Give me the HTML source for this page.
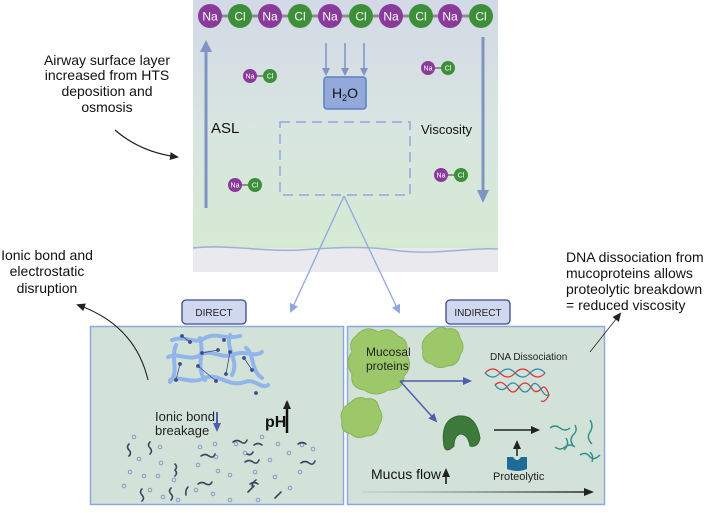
<!DOCTYPE html>
<html><head><meta charset="utf-8"><style>
body{margin:0;width:708px;height:508px;background:#fff;overflow:hidden}
svg text{font-family:"Liberation Sans",Arial,sans-serif}
</style></head><body>
<svg width="708" height="508" viewBox="0 0 708 508" xmlns="http://www.w3.org/2000/svg">
<defs>
<linearGradient id="tg" x1="0" y1="0" x2="0" y2="1">
<stop offset="0" stop-color="#d3d9e6"/><stop offset="0.55" stop-color="#d8e6e0"/><stop offset="1" stop-color="#d6ead3"/>
</linearGradient>
<linearGradient id="ag" gradientUnits="userSpaceOnUse" x1="362" y1="0" x2="590" y2="0">
<stop offset="0" stop-color="#8a9a96" stop-opacity="0.2"/><stop offset="1" stop-color="#222"/>
</linearGradient>
<marker id="ab" markerWidth="8" markerHeight="8" refX="6" refY="4" orient="auto" markerUnits="userSpaceOnUse"><path d="M0,0 L8,4 L0,8 z" fill="#7f93c4"/></marker>
<marker id="ak" markerWidth="9" markerHeight="8" refX="7" refY="4" orient="auto" markerUnits="userSpaceOnUse"><path d="M0,0 L9,4 L0,8 z" fill="#222"/></marker>
<marker id="ap" markerWidth="9" markerHeight="8" refX="7" refY="4" orient="auto" markerUnits="userSpaceOnUse"><path d="M0,0 L9,4 L0,8 z" fill="#4f5db0"/></marker>
<marker id="al" markerWidth="9" markerHeight="9" refX="7" refY="4.5" orient="auto" markerUnits="userSpaceOnUse"><path d="M0,0 L9,4.5 L0,9 z" fill="#8fa8dc"/></marker>
</defs>

<rect x="193" y="0" width="305" height="248" fill="url(#tg)"/>
<rect x="193" y="248" width="305" height="24" fill="#e9e9ee"/>
<path d="M193,248 C230,244 260,252 300,250 C340,247 370,246 400,251 C440,255 470,247 498,249" fill="none" stroke="#9fb1d3" stroke-width="1.5"/>

<g stroke="#8c8c8c" stroke-width="3"><line x1="210" y1="16" x2="481" y2="16"/></g>
<g font-size="12" fill="#fff" text-anchor="middle">
<circle cx="210" cy="16" r="12" fill="#8a3a9a"/><text x="210" y="20.5">Na</text>
<circle cx="240" cy="16" r="12" fill="#3e8f3a"/><text x="240" y="20.5">Cl</text>
<circle cx="270" cy="16" r="12" fill="#8a3a9a"/><text x="270" y="20.5">Na</text>
<circle cx="300" cy="16" r="12" fill="#3e8f3a"/><text x="300" y="20.5">Cl</text>
<circle cx="330" cy="16" r="12" fill="#8a3a9a"/><text x="330" y="20.5">Na</text>
<circle cx="361" cy="16" r="12" fill="#3e8f3a"/><text x="361" y="20.5">Cl</text>
<circle cx="391" cy="16" r="12" fill="#8a3a9a"/><text x="391" y="20.5">Na</text>
<circle cx="421" cy="16" r="12" fill="#3e8f3a"/><text x="421" y="20.5">Cl</text>
<circle cx="450" cy="16" r="12" fill="#8a3a9a"/><text x="450" y="20.5">Na</text>
<circle cx="481" cy="16" r="12" fill="#3e8f3a"/><text x="481" y="20.5">Cl</text>
</g>
<g font-size="7" fill="#fff" text-anchor="middle" stroke-width="2">
<line x1="250" y1="76" x2="270" y2="76" stroke="#8c8c8c"/><circle cx="250" cy="76" r="7" fill="#8a3a9a"/><text x="250" y="78.5">Na</text><circle cx="270" cy="76" r="7" fill="#3e8f3a"/><text x="270" y="78.5">Cl</text>
<line x1="428" y1="68" x2="448" y2="68" stroke="#8c8c8c"/><circle cx="428" cy="68" r="7" fill="#8a3a9a"/><text x="428" y="70.5">Na</text><circle cx="448" cy="68" r="7" fill="#3e8f3a"/><text x="448" y="70.5">Cl</text>
<line x1="235" y1="185" x2="255" y2="185" stroke="#8c8c8c"/><circle cx="235" cy="185" r="7" fill="#8a3a9a"/><text x="235" y="187.5">Na</text><circle cx="255" cy="185" r="7" fill="#3e8f3a"/><text x="255" y="187.5">Cl</text>
<line x1="441" y1="175" x2="461" y2="175" stroke="#8c8c8c"/><circle cx="441" cy="175" r="7" fill="#8a3a9a"/><text x="441" y="177.5">Na</text><circle cx="461" cy="175" r="7" fill="#3e8f3a"/><text x="461" y="177.5">Cl</text>
</g>

<line x1="206" y1="208" x2="206" y2="50" stroke="#7f93c4" stroke-width="3"/>
<path d="M200,52 L206,40 L212,52 z" fill="#7f93c4"/>
<line x1="483" y1="37" x2="483" y2="192" stroke="#7f93c4" stroke-width="3"/>
<path d="M477,190 L483,203 L489,190 z" fill="#7f93c4"/>
<text x="211" y="133" font-size="15" fill="#111">ASL</text>
<text x="421" y="134" font-size="13" fill="#111">Viscosity</text>

<g stroke="#7f93c4" stroke-width="1.5" marker-end="url(#ab)">
<line x1="326" y1="43" x2="326" y2="74"/><line x1="345" y1="43" x2="345" y2="74"/><line x1="364" y1="43" x2="364" y2="74"/>
</g>
<rect x="324" y="77" width="42" height="32" rx="3" fill="#93a9da" stroke="#5a80c8" stroke-width="1.5"/>
<text x="345" y="98" font-size="14" text-anchor="middle" fill="#111">H<tspan font-size="9" dy="3">2</tspan><tspan dy="-3">O</tspan></text>
<rect x="280" y="122" width="130" height="73" fill="none" stroke="#8fa8dc" stroke-width="1.5" stroke-dasharray="10,6"/>

<line x1="344" y1="196" x2="291" y2="311" stroke="#8fa8dc" stroke-width="1.3" marker-end="url(#al)"/>
<line x1="344" y1="196" x2="399" y2="312" stroke="#8fa8dc" stroke-width="1.3" marker-end="url(#al)"/>

<g font-size="14" fill="#111" text-anchor="middle">
<text x="107" y="65">Airway surface layer</text>
<text x="107" y="80">increased from HTS</text>
<text x="107" y="96">deposition and</text>
<text x="107" y="112">osmosis</text>
<text x="47" y="260">Ionic bond and</text>
<text x="47" y="276">electrostatic</text>
<text x="47" y="293">disruption</text>
</g>
<g font-size="14" fill="#111">
<text x="566" y="262">DNA dissociation from</text>
<text x="566" y="278">mucoproteins allows</text>
<text x="566" y="294">proteolytic breakdown</text>
<text x="566" y="310">= reduced viscosity</text>
</g>
<path d="M115,130 Q140,152 177,157" fill="none" stroke="#222" stroke-width="1.3" marker-end="url(#ak)"/>

<rect x="90.5" y="326.5" width="253" height="178" fill="#d2e2d9" stroke="#8fa8dc" stroke-width="1.5"/>
<rect x="347.5" y="326.5" width="257" height="178" fill="#d2e2d9" stroke="#8fa8dc" stroke-width="1.5"/>
<rect x="182" y="300" width="64" height="24" rx="4" fill="#d0d8f0" stroke="#3d4b82" stroke-width="1.3"/>
<text x="214" y="316" font-size="10" text-anchor="middle" fill="#222">DIRECT</text>
<rect x="446" y="300" width="64" height="24" rx="4" fill="#d0d8f0" stroke="#3d4b82" stroke-width="1.3"/>
<text x="478" y="316" font-size="10" text-anchor="middle" fill="#222">INDIRECT</text>

<path d="M148,380 Q135,325 78,305" fill="none" stroke="#222" stroke-width="1.1" marker-end="url(#ak)"/>
<line x1="590" y1="352" x2="620" y2="314" stroke="#333" stroke-width="0.9" marker-end="url(#ak)"/>

<g fill="none" stroke="#91b5ea" stroke-width="4" stroke-linecap="round">
<path d="M172,340 C185,335 195,345 205,338 C215,332 225,340 240,336"/>
<path d="M168,357 C178,352 190,362 200,355 C212,348 220,360 235,354 C245,350 255,358 262,352"/>
<path d="M170,380 C180,375 190,385 205,378 C218,372 228,388 245,382 C255,378 262,390 268,385"/>
<path d="M200,338 C205,355 195,365 205,380"/>
<path d="M230,335 C225,350 240,360 232,375"/>
<path d="M246,348 C255,355 250,370 262,378"/>
<path d="M176,345 C170,360 180,370 170,382"/>
</g>
<g stroke="#3d4b8a" stroke-width="0.8" fill="#3d4b8a">
<line x1="182" y1="336" x2="190" y2="342"/><line x1="202" y1="353" x2="218" y2="350"/><line x1="198" y1="366" x2="216" y2="381"/><line x1="230" y1="352" x2="226" y2="374"/><line x1="244" y1="358" x2="252" y2="370"/><line x1="176" y1="380" x2="180" y2="364"/>
<circle cx="182" cy="336" r="1.5"/><circle cx="190" cy="342" r="1.5"/><circle cx="202" cy="353" r="1.5"/><circle cx="218" cy="350" r="1.5"/><circle cx="198" cy="366" r="1.5"/><circle cx="216" cy="381" r="1.5"/><circle cx="230" cy="352" r="1.5"/><circle cx="226" cy="374" r="1.5"/><circle cx="244" cy="358" r="1.5"/><circle cx="252" cy="370" r="1.5"/><circle cx="176" cy="380" r="1.5"/><circle cx="180" cy="364" r="1.5"/><circle cx="224" cy="340" r="1.5"/><circle cx="256" cy="393" r="1.5"/>
</g>
<text x="155" y="421" font-size="13" fill="#222">Ionic bond</text>
<text x="155" y="435" font-size="13" fill="#222">breakage</text>
<line x1="217" y1="412" x2="217" y2="430" stroke="#4f5db0" stroke-width="2" marker-end="url(#ap)"/>
<text x="265" y="427" font-size="16" font-weight="bold" fill="#111">pH</text>
<line x1="287" y1="433" x2="287" y2="402" stroke="#111" stroke-width="2.5" marker-end="url(#ak)"/>
<g fill="none" stroke="#7f93c4" stroke-width="0.9">
<circle cx="134" cy="437" r="1.8"/><circle cx="160" cy="447" r="1.8"/><circle cx="139" cy="459" r="1.8"/><circle cx="161" cy="463" r="1.8"/><circle cx="130" cy="472" r="1.8"/><circle cx="144" cy="476" r="1.8"/><circle cx="158" cy="476" r="1.8"/><circle cx="174" cy="480" r="1.8"/><circle cx="124" cy="486" r="1.8"/><circle cx="150" cy="490" r="1.8"/><circle cx="163" cy="497" r="1.8"/><circle cx="200" cy="447" r="1.8"/><circle cx="215" cy="444" r="1.8"/><circle cx="216" cy="457" r="1.8"/><circle cx="198" cy="465" r="1.8"/><circle cx="218" cy="471" r="1.8"/><circle cx="230" cy="475" r="1.8"/><circle cx="196" cy="490" r="1.8"/><circle cx="213" cy="494" r="1.8"/><circle cx="236" cy="444" r="1.8"/><circle cx="245" cy="453" r="1.8"/><circle cx="262" cy="437" r="1.8"/><circle cx="278" cy="444" r="1.8"/><circle cx="289" cy="453" r="1.8"/><circle cx="270" cy="460" r="1.8"/><circle cx="255" cy="472" r="1.8"/><circle cx="275" cy="477" r="1.8"/><circle cx="302" cy="445" r="1.8"/><circle cx="313" cy="449" r="1.8"/><circle cx="300" cy="472" r="1.8"/><circle cx="290" cy="488" r="1.8"/><circle cx="258" cy="500" r="1.8"/><circle cx="230" cy="500" r="1.8"/><circle cx="178" cy="500" r="1.8"/>
</g>
<g fill="none" stroke="#3d4660" stroke-width="1.6" stroke-linecap="round">
<path d="M129,444 q-3,3 0,6 q3,3 0,6"/><path d="M150,442 q-3,3 0,6 q3,3 0,6"/><path d="M175,464 q3,3 0,6 q3,3 0,6"/><path d="M201,456 q4,-3 8,0 q4,3 6,-2"/><path d="M233,442 q4,-3 8,0 q4,3 6,-2"/><path d="M245,462 q4,-3 8,0 q4,3 6,-2"/><path d="M254,445 q4,-3 8,0"/><path d="M298,444 q4,-3 8,0"/><path d="M301,463 q4,-3 8,0 q4,3 6,-2"/><path d="M198,484 q4,-3 8,0 q4,2 6,-2"/><path d="M188,487 q-3,3 -2,8"/><path d="M142,489 q-3,3 0,6 q3,3 0,6"/><path d="M171,488 q-3,3 0,6 q3,3 0,6"/><path d="M254,486 q-3,3 -6,6"/><path d="M250,484 q4,-3 8,0"/><path d="M281,492 q-3,3 -6,6"/><path d="M256,480 q-3,2 -4,6"/><path d="M247,454 q4,2 6,-2"/>
</g>

<g fill="#9cc86a" stroke="#87b555" stroke-width="1">
<path d="M356,336 q10,-12 22,-4 q12,-6 20,4 q12,4 8,18 q8,12 -2,22 q0,14 -16,14 q-12,8 -24,0 q-14,-2 -12,-16 q-8,-12 0,-22 q-4,-10 4,-16z"/>
<path d="M432,332 q7,-7 15,-3 q11,-2 13,9 q6,9 0,17 q-2,11 -13,11 q-9,4 -15,-2 q-11,-2 -9,-13 q-4,-11 9,-19z"/>
<path d="M351,402 q7,-7 15,-3 q11,-2 13,9 q6,9 0,17 q-2,11 -13,11 q-9,4 -15,-2 q-11,-2 -9,-13 q-4,-11 9,-19z"/>
</g>
<text x="366" y="356" font-size="12" fill="#222">Mucosal</text>
<text x="366" y="370" font-size="12" fill="#222">proteins</text>
<line x1="400" y1="381" x2="470" y2="381" stroke="#4f5db0" stroke-width="1.5" marker-end="url(#ap)"/>
<line x1="400" y1="381" x2="436" y2="421" stroke="#4f5db0" stroke-width="1.5" marker-end="url(#ap)"/>
<text x="490" y="360" font-size="10" fill="#222">DNA Dissociation</text>
<g fill="none" stroke-width="1.3">
<path d="M485,373 q8,-8 15,0 q8,8 15,0 q8,-8 15,0 q8,8 15,0" stroke="#d33"/>
<path d="M485,373 q8,8 15,0 q8,-8 15,0 q8,8 15,0 q8,-8 15,0" stroke="#38a"/>
<path d="M495,385 q6,-6 12,2 q6,10 12,0 q6,-8 12,0 q4,8 10,2 q4,-6 8,6 q-4,8 -8,6" stroke="#d33"/>
<path d="M495,385 q6,8 12,2 q6,-8 12,0 q6,10 12,0 q4,-8 10,2 q4,8 8,6" stroke="#38a"/>
</g>
<path d="M444,446 q-4,-26 14,-30 q18,-2 22,22 q-2,10 -10,8 q-2,-12 -10,-12 q-6,2 -6,12 q-8,8 -10,0z" fill="#3f7a3d" stroke="#2f6a2e"/>
<line x1="494" y1="430" x2="538" y2="430" stroke="#222" stroke-width="1.5" marker-end="url(#ak)"/>
<line x1="517" y1="456" x2="517" y2="442" stroke="#222" stroke-width="1.5" marker-end="url(#ak)"/>
<path d="M507,457 h6 q4,6 8,0 h6 v12 q-10,4 -20,0z" fill="#1e6b98"/>
<text x="493" y="480" font-size="11" fill="#222">Proteolytic</text>
<g fill="none" stroke="#2f8f86" stroke-width="1.4">
<path d="M550,428 q5,-4 10,0 q5,4 10,0"/><path d="M575,425 q3,6 -2,10 q-4,5 0,10"/><path d="M590,420 q4,6 0,12 q-4,6 2,12"/><path d="M555,447 q5,4 10,0 q5,-4 10,0"/><path d="M580,455 q6,-4 10,2 q4,4 10,-2"/><path d="M566,438 q4,6 -2,12"/><path d="M590,452 q4,4 2,10"/>
</g>
<text x="371" y="479" font-size="14" fill="#111">Mucus flow</text>
<line x1="446" y1="484" x2="446" y2="470" stroke="#111" stroke-width="1.5" marker-end="url(#ak)"/>
<line x1="362" y1="492" x2="586" y2="492" stroke="url(#ag)" stroke-width="1.5"/>
<path d="M584,488 L594,492 L584,496z" fill="#222"/>
</svg>
</body></html>
